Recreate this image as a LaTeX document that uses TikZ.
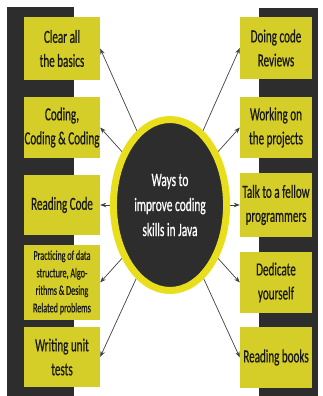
\documentclass[tikz,border=0pt]{standalone}
\usepackage{fontspec}
\setmainfont{Carlito}[FakeStretch=0.6, FakeBold=0.6]
\usetikzlibrary{arrows.meta,shapes.geometric}
\definecolor{bar}{RGB}{45,45,45}
\definecolor{boxy}{RGB}{214,206,40}
\definecolor{ring}{RGB}{232,222,28}
\definecolor{txt}{RGB}{25,25,20}
\begin{document}
\begin{tikzpicture}[x=1pt,y=-1pt,
 item/.style={fill=boxy, text=txt, align=center, font=\fontsize{18.5}{24}\selectfont, inner sep=0pt, anchor=center},
 lbox/.style={item, minimum width=76pt},
 rbox/.style={item, minimum width=72pt},
 small/.style={font=\fontsize{13.5}{17.5}\selectfont},
 link/.style={draw=black!75, line width=0.7pt, -{Stealth[length=6pt,width=4.5pt]}},
 hubstyle/.style={ellipse, fill=bar, draw=ring, line width=7pt, minimum width=84pt, minimum height=171pt, inner sep=0pt, text=white, align=center, font=\fontsize{19}{25}\selectfont}]
\useasboundingbox (0,0) rectangle (323,396);
\fill[bar] (7,7) rectangle (74,396);
\fill[bar] (259,8) rectangle (318,396);
\node[lbox, minimum height=63pt] (l1) at (62,48.5) {Clear all\\the basics};
\node[lbox, minimum height=61pt] (l2) at (62,127.5) {Coding,\\Coding \& Coding};
\node[lbox, minimum height=60pt] (l3) at (62,205) {Reading Code};
\node[lbox, small, minimum height=75pt] (l4) at (62,282.5) {Practicing of data\\structure, Algo-\\rithms \& Desing\\Related problems};
\node[lbox, minimum height=60pt] (l5) at (62,357) {Writing unit\\tests};
\node[rbox, minimum height=62pt] (r1) at (276,48) {Doing code\\Reviews};
\node[rbox, minimum height=61pt] (r2) at (276,127.5) {Working on\\the projects};
\node[rbox, minimum height=64pt] (r3) at (276,205) {Talk to a fellow\\programmers};
\node[rbox, minimum height=61pt] (r4) at (276,282.5) {Dedicate\\yourself};
\node[rbox, minimum height=61pt] (r5) at (276,357.5) {Reading books};
\coordinate (c) at (170,205);
\foreach \n in {l1,l2,l3,l4,l5} \draw[link] (c) -- (\n.east);
\foreach \n in {r1,r2,r3,r4,r5} \draw[link] (c) -- (\n.west);
\node[hubstyle] (hub) at (c) {\raisebox{4pt}{\parbox{80pt}{\centering Ways to\\improve coding\\skills in Java}}};
\end{tikzpicture}
\end{document}
